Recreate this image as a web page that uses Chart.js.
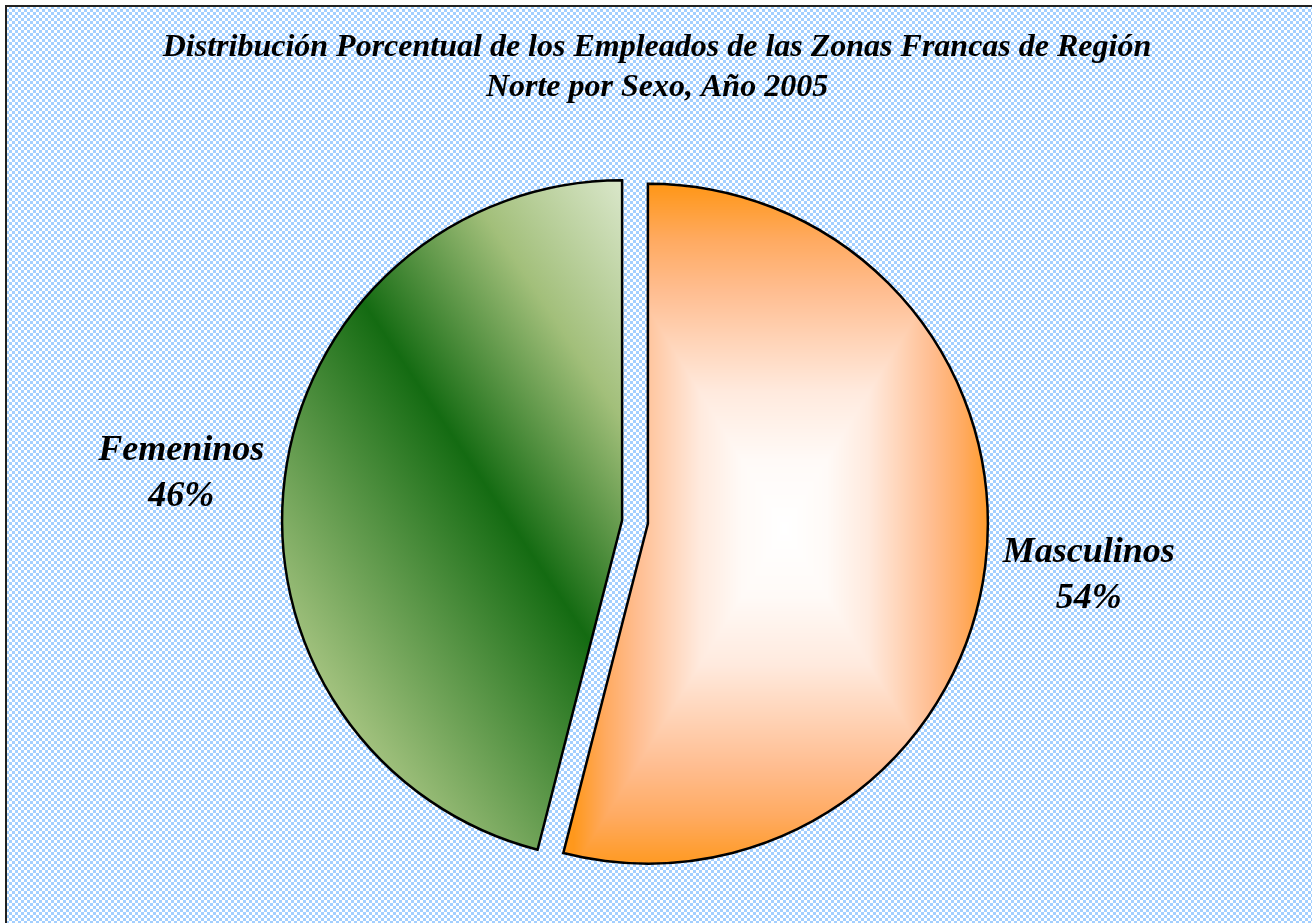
<!DOCTYPE html>
<html lang="es">
<head>
<meta charset="UTF-8">
<title>Empleados Zonas Francas Región Norte 2005</title>
<script src="https://cdn.jsdelivr.net/npm/chart.js"></script>
<style>
  html, body { margin: 0; padding: 0; background: #fff; overflow: hidden }
  #wrap { position: relative; width: 1312px; height: 923px }
</style>
</head>
<body>
<div id="wrap"><canvas id="pie"></canvas></div>
<script>
const categories = ['Masculinos', 'Femeninos'];
const values = [54, 46];
const titleLines = [
  'Distribución Porcentual de los Empleados de las Zonas Francas de Región',
  'Norte por Sexo, Año 2005'
];

const FONT = '"Liberation Serif", "Times New Roman", serif';
const pieRadius = 340;
const explode = 13;

// orange slice: rectangular "from centre" fill, white in the middle
const orangeStops = [
  [0, [255, 255, 255]], [0.2, [255, 250, 247]], [0.4, [255, 234, 222]],
  [0.55, [255, 212, 184]], [0.7, [255, 189, 144]], [0.85, [255, 170, 96]],
  [1, [255, 152, 28]]
];

function ramp(stops, t) {
  for (let i = 1; i < stops.length; i++) {
    if (t <= stops[i][0]) {
      const [t0, c0] = stops[i - 1], [t1, c1] = stops[i];
      const k = (t - t0) / (t1 - t0);
      return c0.map((v, j) => v + (c1[j] - v) * k);
    }
  }
  return stops[stops.length - 1][1];
}

let orangeCache = {};
function orangeFill(chart, cx, cy) {
  const W = chart.width, H = chart.height;
  const key = [W, H, cx, cy].join();
  if (orangeCache.key === key) return orangeCache.pat;
  const off = document.createElement('canvas');
  off.width = W; off.height = H;
  const octx = off.getContext('2d');
  const img = octx.createImageData(W, H);
  const gx = cx + 0.4 * pieRadius, gy = cy + 4;
  const hw = 0.62 * pieRadius, hh = pieRadius;
  for (let y = 0; y < H; y++) {
    for (let x = 0; x < W; x++) {
      const t = Math.min(1, Math.max(Math.abs(x - gx) / hw, Math.abs(y - gy) / hh));
      const c = ramp(orangeStops, t);
      const p = (y * W + x) * 4;
      img.data[p] = c[0]; img.data[p + 1] = c[1]; img.data[p + 2] = c[2]; img.data[p + 3] = 255;
    }
  }
  octx.putImageData(img, 0, 0);
  orangeCache = { key, pat: chart.ctx.createPattern(off, 'no-repeat') };
  return orangeCache.pat;
}

// green slice: diagonal band, dark in the middle
function greenFill(ctx, cx, cy) {
  const ux = 0.831, uy = -0.556;
  const bx = cx - 162, by = cy - 73;
  const g = ctx.createLinearGradient(bx - 260 * ux, by - 260 * uy, bx + 290 * ux, by + 290 * uy);
  g.addColorStop(0, '#abc785');
  g.addColorStop(0.473, '#146b12');
  g.addColorStop(0.745, '#a2bf7a');
  g.addColorStop(1, '#dde9cf');
  return g;
}

function makeTile() {
  const t = document.createElement('canvas');
  t.width = 6; t.height = 6;
  const c = t.getContext('2d');
  for (let y = 0; y < 6; y++) {
    for (let x = 0; x < 6; x++) {
      c.fillStyle = ((x < 3) !== (y < 3)) ? '#a3cfff' : '#ffffff';
      c.fillRect(x, y, 1, 1);
    }
  }
  return t;
}

const frame = {
  id: 'frame',
  beforeDraw(chart) {
    const { ctx, width, height } = chart;
    ctx.save();
    ctx.fillStyle = '#fff';
    ctx.fillRect(0, 0, width, height);
    ctx.fillStyle = ctx.createPattern(makeTile(), 'repeat');
    ctx.fillRect(7, 7, width - 7, height - 7);
    ctx.fillStyle = '#222';
    ctx.fillRect(5, 5, width - 5, 2);
    ctx.fillRect(5, 5, 2, height - 5);
    ctx.fillStyle = '#000';
    ctx.font = 'italic bold 32px ' + FONT;
    ctx.textAlign = 'center';
    ctx.textBaseline = 'alphabetic';
    titleLines.forEach((line, i) => ctx.fillText(line, width / 2 + 1, 56 + i * 40));
    ctx.restore();
  }
};

// pull every slice out from the centre by the same distance
const explodeSlices = {
  id: 'explodeSlices',
  beforeDatasetDraw(chart, args) {
    const ctx = chart.ctx;
    args.meta.data.forEach(arc => {
      const mid = (arc.startAngle + arc.endAngle) / 2;
      ctx.save();
      ctx.translate(Math.cos(mid) * explode, Math.sin(mid) * explode);
      arc.draw(ctx);
      ctx.restore();
    });
    return false;
  }
};

const sliceLabels = {
  id: 'sliceLabels',
  afterDatasetsDraw(chart) {
    const ctx = chart.ctx;
    const meta = chart.getDatasetMeta(0);
    const total = values.reduce((s, v) => s + v, 0);
    ctx.save();
    ctx.font = 'italic bold 36px ' + FONT;
    ctx.fillStyle = '#000';
    ctx.textAlign = 'center';
    ctx.textBaseline = 'alphabetic';
    meta.data.forEach((arc, i) => {
      const mid = (arc.startAngle + arc.endAngle) / 2;
      const x = arc.x + Math.cos(mid) * arc.outerRadius * 1.345;
      const y = arc.y + Math.sin(mid) * arc.outerRadius * 1.19;
      ctx.fillText(categories[i], x, y - 11);
      ctx.fillText(Math.round(values[i] / total * 100) + '%', x, y + 35);
    });
    ctx.restore();
  }
};

new Chart(document.getElementById('pie'), {
  type: 'pie',
  data: {
    labels: categories,
    datasets: [{
      data: values,
      backgroundColor(c) {
        const chart = c.chart, a = chart.chartArea;
        if (!a || c.dataIndex === undefined) return '#ff9a1e';
        const cx = (a.left + a.right) / 2, cy = (a.top + a.bottom) / 2;
        return c.dataIndex === 0 ? orangeFill(chart, cx, cy) : greenFill(chart.ctx, cx, cy);
      },
      borderColor: '#000',
      borderWidth: 2.5,
      borderJoinStyle: 'miter'
    }]
  },
  options: {
    responsive: true,
    maintainAspectRatio: false,
    animation: false,
    events: [],
    radius: pieRadius,
    layout: { padding: { left: 0, right: 42, top: 121, bottom: 0 } },
    plugins: {
      legend: { display: false },
      title: { display: false },
      tooltip: { enabled: false }
    }
  },
  plugins: [frame, explodeSlices, sliceLabels]
});
</script>
</body>
</html>
